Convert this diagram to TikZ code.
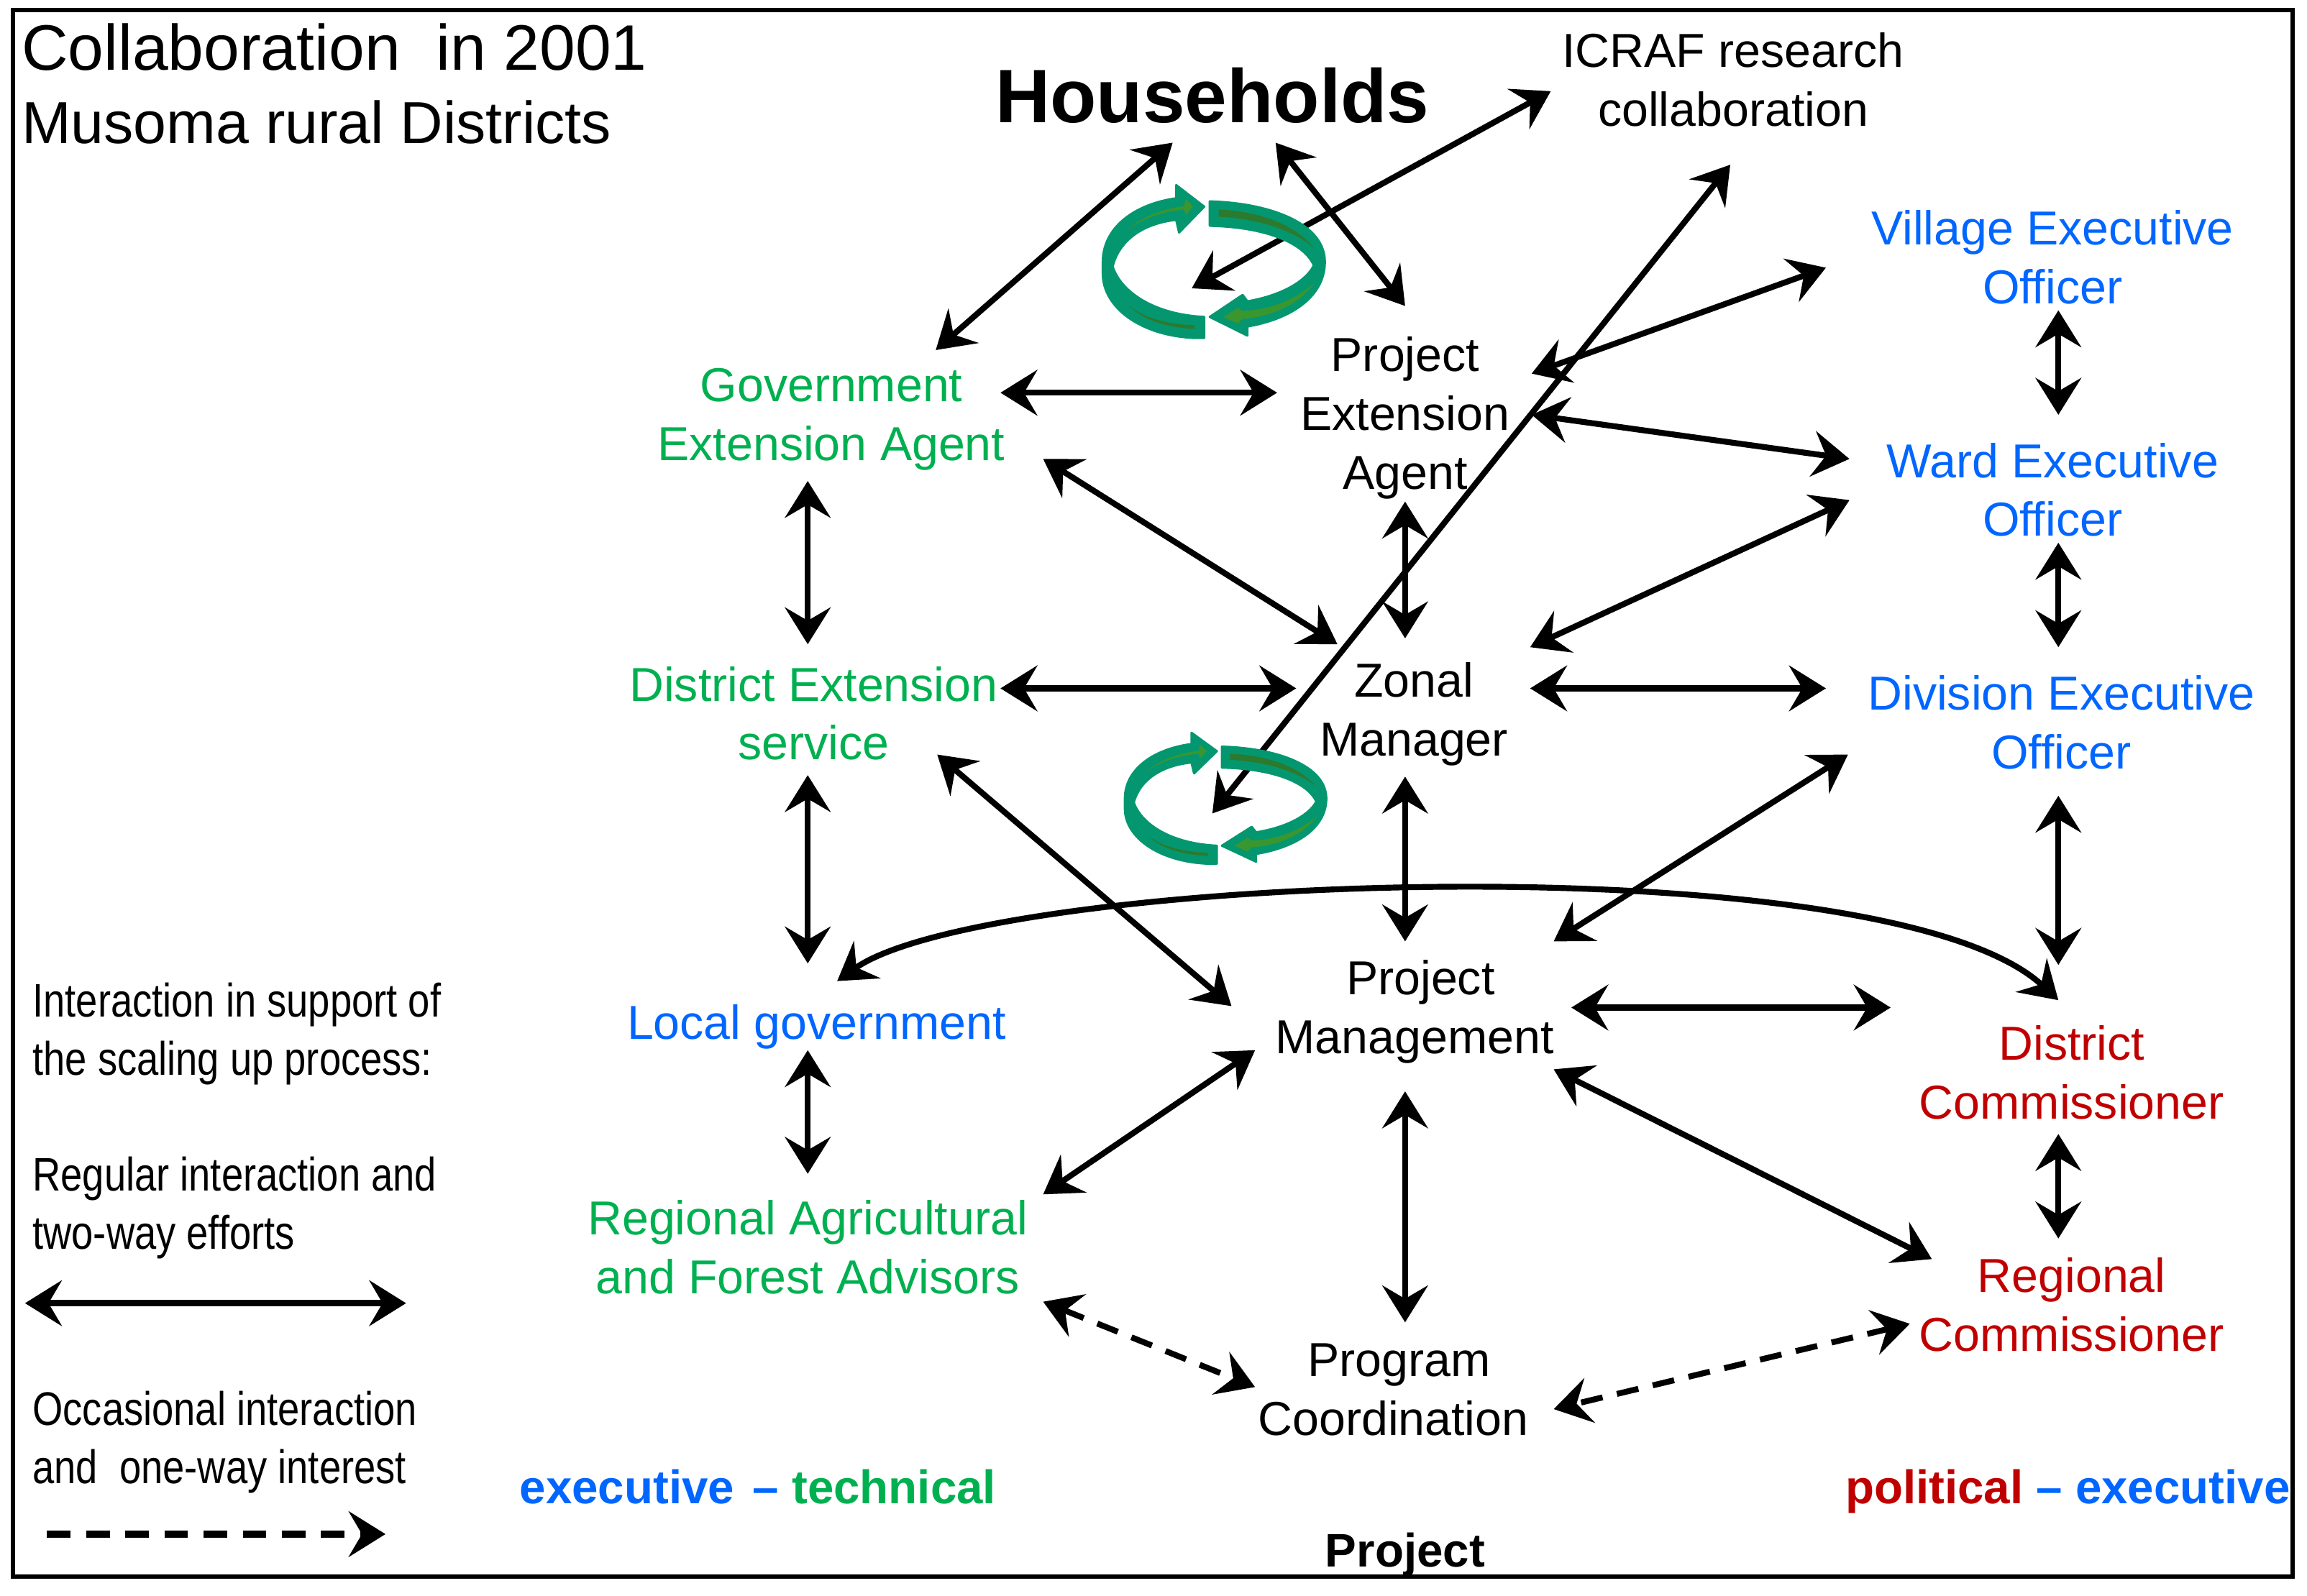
\documentclass[tikz,border=0pt]{standalone}
\usepackage{fontspec}
\setmainfont{Liberation Sans}
\newfontfamily\narrowfont[FakeStretch=0.83]{Liberation Sans}
\usetikzlibrary{arrows.meta,positioning,calc}
\definecolor{techgreen}{HTML}{00B050}
\definecolor{execblue}{HTML}{0066FF}
\definecolor{politred}{HTML}{C00000}
\definecolor{loopteal}{HTML}{04976F}
\definecolor{looplight}{HTML}{3A962F}
\definecolor{loopdark}{HTML}{2B7A2E}
\tikzset{
  looparrow/.pic={
    \begin{scope}[x=0.163pt,y=-0.163pt,shift={(-865,-634)}]
    \filldraw[loopteal,line width=1.5pt,line join=round]
      (402,640) .. controls (402,500) and (530,400) .. (708,375) -- (708,320) -- (825,410) -- (720,518)
      -- (708,465) .. controls (570,480) and (470,550) .. (443,660) .. controls (480,770) and (620,860) .. (825,870)
      -- (825,958) -- (790,958) .. controls (560,950) and (402,830) .. (402,690) -- cycle;
    \filldraw[loopteal,line width=1.5pt,line join=round]
      (848,388) .. controls (1100,395) and (1328,480) .. (1328,640) .. controls (1328,790) and (1180,880) .. (1005,910)
      -- (1005,948) -- (848,870) -- (985,778) -- (1005,805) .. controls (1150,780) and (1250,720) .. (1282,655)
      .. controls (1240,560) and (1080,495) .. (848,490) -- cycle;
    \fill[looplight] (505,505) .. controls (570,450) and (650,420) .. (740,408) -- (748,378) -- (778,410) -- (748,445)
      -- (740,422) .. controls (650,430) and (570,460) .. (505,505) -- cycle;
    \fill[loopdark] (885,422) .. controls (1050,430) and (1200,480) .. (1282,582) .. controls (1200,510) and (1050,460) .. (885,452) -- cycle;
    \fill[looplight] (1282,730) .. controls (1200,800) and (1100,840) .. (985,845) -- (965,832) -- (905,870) -- (965,898)
      -- (985,878) .. controls (1100,870) and (1220,820) .. (1282,730) -- cycle;
    \fill[loopdark] (510,822) .. controls (580,880) and (680,900) .. (785,905) -- (785,920) .. controls (670,915) and (570,885) .. (510,822) -- cycle;
    \end{scope}
  }
}

\begin{document}
\begin{tikzpicture}[
  x=1pt, y=-1pt,
  lbl/.style={inner sep=0pt,align=center,font=\fontsize{32.4}{40}\selectfont},
  tech/.style={lbl,text=techgreen},
  exec/.style={lbl,text=execblue},
  polit/.style={lbl,text=politred},
  legend/.style={inner sep=0pt,anchor=west,align=left,font=\narrowfont\fontsize{32}{39.5}\selectfont},
  ar/.style={{Stealth[length=25pt,width=31pt,inset=9pt]}-{Stealth[length=25pt,width=31pt,inset=9pt]},line width=4pt},
  dar/.style={ar,dash pattern=on 15pt off 10pt}]

\useasboundingbox (0,0) rectangle (1568,1084.6);
\draw[line width=3pt] (9,7) rectangle (1558,1072);

% titles
\node[inner sep=0pt,anchor=west,font=\fontsize{43.7}{50}\selectfont] (title) at (14.5,32) {Collaboration\ \ in 2001};
\node[inner sep=0pt,anchor=west,font=\fontsize{40.3}{48}\selectfont] (subtitle) at (14.5,83) {Musoma rural Districts};
\node[inner sep=0pt,font=\fontsize{51.5}{60}\selectfont\bfseries] (hh) at (824,65) {Households};

% actors
\node[lbl] (icraf) at (1178,54) {ICRAF research\\collaboration};
\node[lbl] (pea) at (955,284) {Project\\Extension\\Agent};
\node[lbl] (zon) at (961,485.5) {Zonal\\Manager};
\node[lbl] (pm) at (961.5,688) {\hspace*{8pt}Project\\Management};
\node[lbl] (prog) at (947,945) {\hspace*{8pt}Program\\Coordination};
\node[tech] (gov) at (565,285) {Government\\Extension Agent};
\node[tech] (dist) at (553,485) {District Extension\\service};
\node[exec] (loc) at (555,698) {Local government};
\node[tech] (reg) at (549,848) {Regional Agricultural\\and Forest Advisors};
\node[exec] (vil) at (1395,175) {Village Executive\\Officer};
\node[exec] (ward) at (1395,333) {Ward Executive\\Officer};
\node[exec] (divn) at (1401,491) {Division Executive\\Officer};
\node[polit] (dc) at (1408,729) {District\\Commissioner};
\node[polit] (rc) at (1408,887) {Regional\\Commissioner};

% legend
\node[legend] (lga) at (22,703) {Interaction in support of\\the scaling up process:};
\node[legend] (lgb) at (22,821) {Regular interaction and\\two-way efforts};
\node[legend] (lgc) at (22,980.5) {Occasional interaction\\and\ \ one-way interest};
\coordinate (lga1) at (17,886);
\coordinate (lga2) at (276,886);
\coordinate (lgb1) at (32,1043);
\coordinate (lgb2) at (262,1043);
\draw[ar,line width=4.5pt] (lga1) -- (lga2);
\draw[line width=4.5pt,dash pattern=on 16pt off 10.6pt,-{Stealth[length=25pt,width=31pt,inset=9pt]}] (lgb1) -- (lgb2);

% groups
\node[inner sep=0pt,anchor=west,font=\fontsize{32}{40}\selectfont\bfseries] (grpa) at (353,1011) {\textcolor{execblue}{executive\hspace{12.5pt}–} \textcolor{techgreen}{technical}};
\node[inner sep=0pt,anchor=west,font=\fontsize{32}{40}\selectfont\bfseries] (grpb) at (1254,1014) {\textcolor{politred}{political} \textcolor{execblue}{– executive}};
\node[inner sep=0pt,font=\fontsize{32}{40}\selectfont\bfseries] (grpc) at (955,1057) {Project};

\coordinate (loopa) at (810,196);
\coordinate (loopb) at (824,553);

\foreach \a/\ax/\ay/\b/\bx/\by in {
  hh/-27/32/gov/71/-47, hh/43/32/pea/0/-76,
  gov/115/-18/pea/-87/-17, vil/-154/7/pea/86/-30, ward/-138/-21/pea/86/-2,
  ward/-138/7/zon/79/-45.5, zon/79/-17.5/divn/-160/-23, divn/-145/22/pm/94.5/-48,
  vil/4/36/ward/4/-51, ward/4/36/divn/-2/-51, divn/-2/50/dc/-9/-73, dc/-9/42/rc/-9/-45,
  pm/106.5/-3/dc/-123/-44, pm/94.5/39/rc/-95/-31,
  pea/0/57/zon/-6/-51.5, zon/-6/42.5/pm/-6.5/-48, pm/-6.5/54/prog/8/-46,
  gov/144/27/zon/-52/-47.5, dist/127/-17/zon/-80/-17.5, dist/84/28/pm/-124.5/-4,
  gov/-16/42/dist/-4/-47, dist/-4/42/loc/-6/-43, loc/-6/16/reg/0/-50, reg/160/-36/pm/-108.5/26}
  \draw[ar] ([shift={(\ax,\ay)}]\a.center) -- ([shift={(\bx,\by)}]\b.center);

\draw[ar] ([shift={(-124,8)}]icraf.center) -- (loopa);
\draw[ar] ([shift={(-2,58)}]icraf.center) -- (loopb);
\draw[dar] ([shift={(160,37)}]reg.center) -- ([shift={(-94,-2)}]prog.center);
\draw[dar] ([shift={(-110,13)}]rc.center) -- ([shift={(109,13)}]prog.center);
\draw[ar] ([shift={(14,-31)}]loc.center) .. controls (670,595) and (1280,570) .. ([shift={(-9,-49)}]dc.center);

\pic at (825,177) {looparrow};
\pic[xscale=0.907,yscale=0.857] at (833,542) {looparrow};
\end{tikzpicture}
\end{document}
